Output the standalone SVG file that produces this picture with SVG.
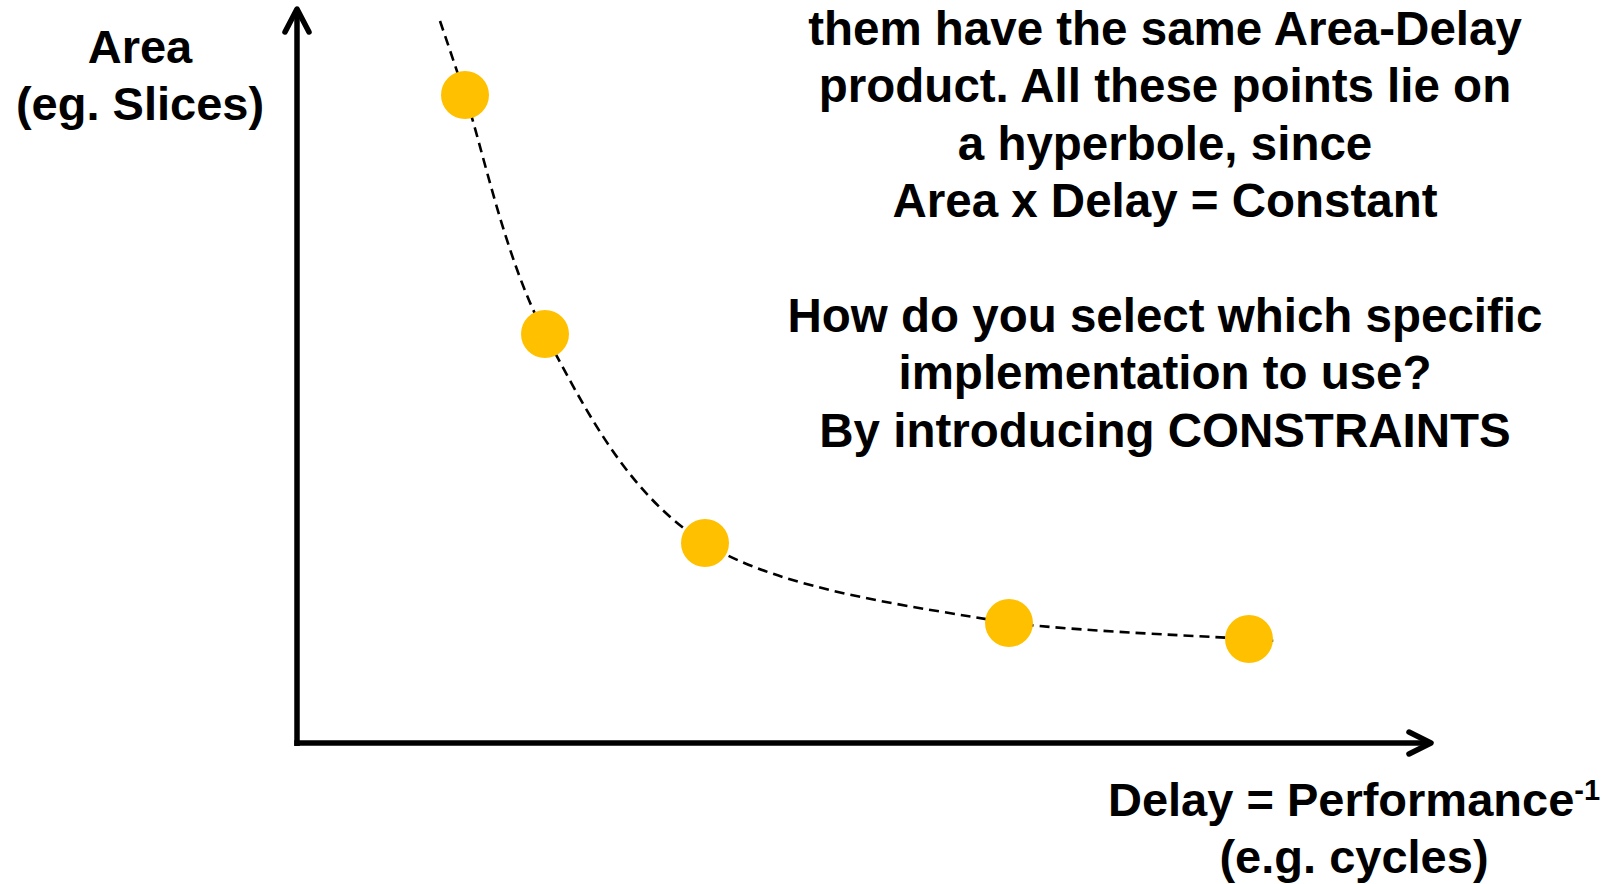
<svg xmlns="http://www.w3.org/2000/svg" width="1612" height="884" viewBox="0 0 1612 884">
  <style>
    .lbl { font-family: "Liberation Sans", Arial, Helvetica, sans-serif; font-weight: bold; font-size: 47px; fill: #000; text-anchor: middle; }
    .note { font-size: 47.5px; }
    .axis { fill: none; stroke: #000; stroke-width: 5.5; }
    .head { fill: none; stroke: #000; stroke-width: 5.5; stroke-linecap: round; stroke-linejoin: round; }
    .curve { fill: none; stroke: #000; stroke-width: 2.6; stroke-dasharray: 10 6; }
    .pt { fill: #FFC000; }
  </style>

  <rect width="1612" height="884" fill="#fff"/>

  <!-- axes -->
  <g id="connectors">
    <path class="axis" d="M297 746 V9"/>
    <path class="head" d="M285 32 L297 9 L309 32"/>
    <path class="axis" d="M294.3 743 H1430"/>
    <path class="head" d="M1409 732 L1431 743 L1409 754"/>
    <!-- constant area-delay hyperbola -->
    <path id="hyperbola" class="curve" d="M440 21 C444.2 33.3 447.5 42.8 465 95 C482.5 147.2 505 259.3 545 334 C585 408.7 627.7 494.8 705 543 C782.3 591.2 918.3 607 1009 623 C1090 632 1204.3 636 1249 639 L1277 641"/>
  </g>

  <!-- design points -->
  <g id="point-1"><circle class="pt" cx="465" cy="95" r="24"/></g>
  <g id="point-2"><circle class="pt" cx="545" cy="334" r="24"/></g>
  <g id="point-3"><circle class="pt" cx="705" cy="543" r="24"/></g>
  <g id="point-4"><circle class="pt" cx="1009" cy="623" r="24"/></g>
  <g id="point-5"><circle class="pt" cx="1249" cy="639" r="24"/></g>

  <!-- axis labels -->
  <g id="y-label">
    <text class="lbl" x="140" y="63">Area</text>
    <text class="lbl" x="140" y="120">(eg. Slices)</text>
  </g>
  <g id="x-label">
    <text class="lbl" x="1354" y="816">Delay = Performance<tspan font-size="29" dy="-16">-1</tspan></text>
    <text class="lbl" x="1354" y="873">(e.g. cycles)</text>
  </g>

  <!-- explanation -->
  <g id="note">
    <text class="lbl note" x="1165" y="45">them have the same Area-Delay</text>
    <text class="lbl note" x="1165" y="102.4">product. All these points lie on</text>
    <text class="lbl note" x="1165" y="159.8">a hyperbole, since</text>
    <text class="lbl note" x="1165" y="217.2">Area x Delay = Constant</text>
    <text class="lbl note" x="1165" y="332">How do you select which specific</text>
    <text class="lbl note" x="1165" y="389.4">implementation to use?</text>
    <text class="lbl note" x="1165" y="446.8">By introducing CONSTRAINTS</text>
  </g>
</svg>
